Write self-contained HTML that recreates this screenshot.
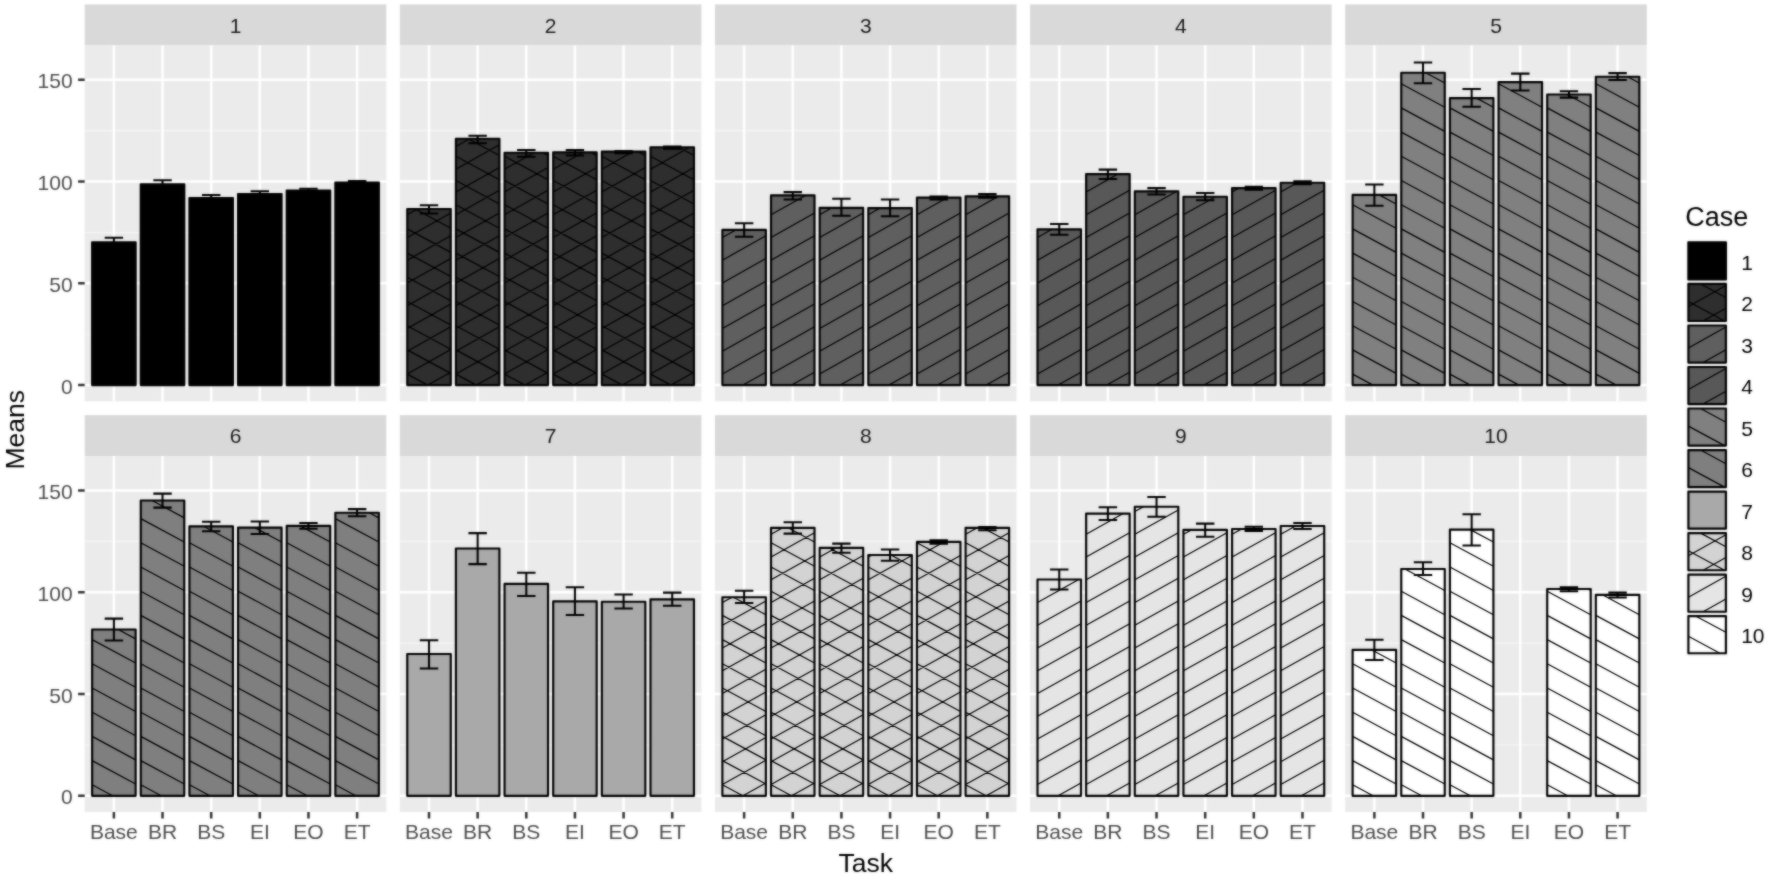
<!DOCTYPE html>
<html lang="en"><head><meta charset="utf-8"><title>Means by Task and Case</title>
<style>html,body{margin:0;padding:0;background:#fff}body{width:1772px;height:881px;overflow:hidden}svg{display:block}text{font-family:"Liberation Sans", Arial, Helvetica, sans-serif}</style></head><body>
<svg width="1772" height="881" viewBox="0 0 1772 881">
<defs><filter id="soft" filterUnits="userSpaceOnUse" x="0" y="0" width="1772" height="881" color-interpolation-filters="sRGB"><feGaussianBlur stdDeviation="0.85" result="b"/><feComposite in="SourceGraphic" in2="b" operator="arithmetic" k1="0" k2="0.45" k3="0.55" k4="0"/></filter></defs>
<g filter="url(#soft)">
<rect width="1772" height="881" fill="#ffffff"/>
<g>
<rect x="84.7" y="4.4" width="301.6" height="41" fill="#D9D9D9"/>
<text x="235.5" y="32.6" font-size="21" fill="#1A1A1A" text-anchor="middle">1</text>
<rect x="84.7" y="45.4" width="301.6" height="355.9" fill="#EBEBEB"/>
<path d="M84.7 334.23H386.3M84.7 232.48H386.3M84.7 130.72H386.3" stroke="#F6F6F6" stroke-width="1.2" fill="none"/>
<path d="M84.7 385.1H386.3M84.7 283.35H386.3M84.7 181.6H386.3M84.7 79.85H386.3M113.89 45.4V401.3M162.53 45.4V401.3M211.18 45.4V401.3M259.82 45.4V401.3M308.47 45.4V401.3M357.11 45.4V401.3" stroke="#ffffff" stroke-width="2.5" fill="none"/>
<path d="M92.14 242.3H135.64V385.1H92.14ZM140.78 184.2H184.28V385.1H140.78ZM189.43 198.1H232.93V385.1H189.43ZM238.07 194H281.57V385.1H238.07ZM286.72 190.5H330.22V385.1H286.72ZM335.36 182.5H378.86V385.1H335.36Z" fill="#000000" stroke="none"/>
<path d="M92.14 242.3H135.64V385.1H92.14ZM140.78 184.2H184.28V385.1H140.78ZM189.43 198.1H232.93V385.1H189.43ZM238.07 194H281.57V385.1H238.07ZM286.72 190.5H330.22V385.1H286.72ZM335.36 182.5H378.86V385.1H335.36Z" fill="none" stroke="#000000" stroke-width="2.15" stroke-linejoin="round"/>
<path d="M104.69 237.7H123.09M113.89 237.7V249.05M104.69 249.05H123.09M153.33 180.3H171.73M162.53 180.3V190.25M153.33 190.25H171.73M201.98 194.9H220.38M211.18 194.9V203.45M201.98 203.45H220.38M250.62 191.2H269.02M259.82 191.2V198.95M250.62 198.95H269.02M299.27 188.7H317.67M308.47 188.7V194.45M299.27 194.45H317.67M347.91 181.1H366.31M357.11 181.1V186.05M347.91 186.05H366.31" fill="none" stroke="#000000" stroke-width="2.05"/>
<path d="M78.1 385.1H84.7M78.1 283.35H84.7M78.1 181.6H84.7M78.1 79.85H84.7" stroke="#333333" stroke-width="2.5" fill="none"/>
<text x="72.6" y="393.6" font-size="21" fill="#4D4D4D" text-anchor="end">0</text>
<text x="72.6" y="291.85" font-size="21" fill="#4D4D4D" text-anchor="end">50</text>
<text x="72.6" y="190.1" font-size="21" fill="#4D4D4D" text-anchor="end">100</text>
<text x="72.6" y="88.35" font-size="21" fill="#4D4D4D" text-anchor="end">150</text>
</g>
<g>
<rect x="399.82" y="4.4" width="301.6" height="41" fill="#D9D9D9"/>
<text x="550.62" y="32.6" font-size="21" fill="#1A1A1A" text-anchor="middle">2</text>
<rect x="399.82" y="45.4" width="301.6" height="355.9" fill="#EBEBEB"/>
<path d="M399.82 334.23H701.42M399.82 232.48H701.42M399.82 130.72H701.42" stroke="#F6F6F6" stroke-width="1.2" fill="none"/>
<path d="M399.82 385.1H701.42M399.82 283.35H701.42M399.82 181.6H701.42M399.82 79.85H701.42M429.01 45.4V401.3M477.65 45.4V401.3M526.3 45.4V401.3M574.94 45.4V401.3M623.59 45.4V401.3M672.23 45.4V401.3" stroke="#ffffff" stroke-width="2.5" fill="none"/>
<path d="M407.26 209H450.76V385.1H407.26ZM455.9 138.7H499.4V385.1H455.9ZM504.55 152.7H548.05V385.1H504.55ZM553.19 152.3H596.69V385.1H553.19ZM601.84 151.6H645.34V385.1H601.84ZM650.48 147.2H693.98V385.1H650.48Z" fill="#2E2E2E" stroke="none"/>
<path d="M427.88 385.1L450.76 372.29M407.26 373.9L450.76 349.54M407.26 351.15L450.76 326.79M407.26 328.4L450.76 304.04M407.26 305.65L450.76 281.29M407.26 282.9L450.76 258.54M407.26 260.15L450.76 235.79M407.26 237.4L450.76 213.04M407.26 214.65L417.35 209M407.26 374.1L427.63 385.1M407.26 349.9L450.76 373.39M407.26 325.7L450.76 349.19M407.26 301.5L450.76 324.99M407.26 277.3L450.76 300.79M407.26 253.1L450.76 276.59M407.26 228.9L450.76 252.39M415.22 209L450.76 228.19M476.53 385.1L499.4 372.29M455.9 373.9L499.4 349.54M455.9 351.15L499.4 326.79M455.9 328.4L499.4 304.04M455.9 305.65L499.4 281.29M455.9 282.9L499.4 258.54M455.9 260.15L499.4 235.79M455.9 237.4L499.4 213.04M455.9 214.65L499.4 190.29M455.9 191.9L499.4 167.54M455.9 169.15L499.4 144.79M455.9 146.4L469.65 138.7M455.9 374.1L476.27 385.1M455.9 349.9L499.4 373.39M455.9 325.7L499.4 349.19M455.9 301.5L499.4 324.99M455.9 277.3L499.4 300.79M455.9 253.1L499.4 276.59M455.9 228.9L499.4 252.39M455.9 204.7L499.4 228.19M455.9 180.5L499.4 203.99M455.9 156.3L499.4 179.79M468.12 138.7L499.4 155.59M525.17 385.1L548.05 372.29M504.55 373.9L548.05 349.54M504.55 351.15L548.05 326.79M504.55 328.4L548.05 304.04M504.55 305.65L548.05 281.29M504.55 282.9L548.05 258.54M504.55 260.15L548.05 235.79M504.55 237.4L548.05 213.04M504.55 214.65L548.05 190.29M504.55 191.9L548.05 167.54M504.55 169.15L533.92 152.7M504.55 374.1L524.92 385.1M504.55 349.9L548.05 373.39M504.55 325.7L548.05 349.19M504.55 301.5L548.05 324.99M504.55 277.3L548.05 300.79M504.55 253.1L548.05 276.59M504.55 228.9L548.05 252.39M504.55 204.7L548.05 228.19M504.55 180.5L548.05 203.99M504.55 156.3L548.05 179.79M542.7 152.7L548.05 155.59M573.82 385.1L596.69 372.29M553.19 373.9L596.69 349.54M553.19 351.15L596.69 326.79M553.19 328.4L596.69 304.04M553.19 305.65L596.69 281.29M553.19 282.9L596.69 258.54M553.19 260.15L596.69 235.79M553.19 237.4L596.69 213.04M553.19 214.65L596.69 190.29M553.19 191.9L596.69 167.54M553.19 169.15L583.28 152.3M553.19 374.1L573.56 385.1M553.19 349.9L596.69 373.39M553.19 325.7L596.69 349.19M553.19 301.5L596.69 324.99M553.19 277.3L596.69 300.79M553.19 253.1L596.69 276.59M553.19 228.9L596.69 252.39M553.19 204.7L596.69 228.19M553.19 180.5L596.69 203.99M553.19 156.3L596.69 179.79M590.6 152.3L596.69 155.59M622.46 385.1L645.34 372.29M601.84 373.9L645.34 349.54M601.84 351.15L645.34 326.79M601.84 328.4L645.34 304.04M601.84 305.65L645.34 281.29M601.84 282.9L645.34 258.54M601.84 260.15L645.34 235.79M601.84 237.4L645.34 213.04M601.84 214.65L645.34 190.29M601.84 191.9L645.34 167.54M601.84 169.15L633.18 151.6M601.84 374.1L622.21 385.1M601.84 349.9L645.34 373.39M601.84 325.7L645.34 349.19M601.84 301.5L645.34 324.99M601.84 277.3L645.34 300.79M601.84 253.1L645.34 276.59M601.84 228.9L645.34 252.39M601.84 204.7L645.34 228.19M601.84 180.5L645.34 203.99M601.84 156.3L645.34 179.79M637.95 151.6L645.34 155.59M671.11 385.1L693.98 372.29M650.48 373.9L693.98 349.54M650.48 351.15L693.98 326.79M650.48 328.4L693.98 304.04M650.48 305.65L693.98 281.29M650.48 282.9L693.98 258.54M650.48 260.15L693.98 235.79M650.48 237.4L693.98 213.04M650.48 214.65L693.98 190.29M650.48 191.9L693.98 167.54M650.48 169.15L689.68 147.2M650.48 374.1L670.85 385.1M650.48 349.9L693.98 373.39M650.48 325.7L693.98 349.19M650.48 301.5L693.98 324.99M650.48 277.3L693.98 300.79M650.48 253.1L693.98 276.59M650.48 228.9L693.98 252.39M650.48 204.7L693.98 228.19M650.48 180.5L693.98 203.99M650.48 156.3L693.98 179.79M678.45 147.2L693.98 155.59" fill="none" stroke="#000000" stroke-width="1.2"/>
<path d="M407.26 209H450.76V385.1H407.26ZM455.9 138.7H499.4V385.1H455.9ZM504.55 152.7H548.05V385.1H504.55ZM553.19 152.3H596.69V385.1H553.19ZM601.84 151.6H645.34V385.1H601.84ZM650.48 147.2H693.98V385.1H650.48Z" fill="none" stroke="#000000" stroke-width="2.15" stroke-linejoin="round"/>
<path d="M419.81 205.3H438.21M429.01 205.3V213.5M419.81 213.5H438.21M468.45 135.8H486.85M477.65 135.8V143.2M468.45 143.2H486.85M517.1 150H535.5M526.3 150V156.7M517.1 156.7H535.5M565.74 150H584.14M574.94 150V155.4M565.74 155.4H584.14M614.39 151H632.79M623.59 151V153.2M614.39 153.2H632.79M663.03 146.5H681.43M672.23 146.5V148.7M663.03 148.7H681.43" fill="none" stroke="#000000" stroke-width="2.05"/>
</g>
<g>
<rect x="714.94" y="4.4" width="301.6" height="41" fill="#D9D9D9"/>
<text x="865.74" y="32.6" font-size="21" fill="#1A1A1A" text-anchor="middle">3</text>
<rect x="714.94" y="45.4" width="301.6" height="355.9" fill="#EBEBEB"/>
<path d="M714.94 334.23H1016.54M714.94 232.48H1016.54M714.94 130.72H1016.54" stroke="#F6F6F6" stroke-width="1.2" fill="none"/>
<path d="M714.94 385.1H1016.54M714.94 283.35H1016.54M714.94 181.6H1016.54M714.94 79.85H1016.54M744.13 45.4V401.3M792.77 45.4V401.3M841.42 45.4V401.3M890.06 45.4V401.3M938.71 45.4V401.3M987.35 45.4V401.3" stroke="#ffffff" stroke-width="2.5" fill="none"/>
<path d="M722.38 229.9H765.88V385.1H722.38ZM771.02 195.4H814.52V385.1H771.02ZM819.67 207.8H863.17V385.1H819.67ZM868.31 208.1H911.81V385.1H868.31ZM916.96 197.6H960.46V385.1H916.96ZM965.6 196.3H1009.1V385.1H965.6Z" fill="#5F5F5F" stroke="none"/>
<path d="M743 385.1L765.88 372.29M722.38 373.9L765.88 349.54M722.38 351.15L765.88 326.79M722.38 328.4L765.88 304.04M722.38 305.65L765.88 281.29M722.38 282.9L765.88 258.54M722.38 260.15L765.88 235.79M722.38 237.4L735.77 229.9M791.65 385.1L814.52 372.29M771.02 373.9L814.52 349.54M771.02 351.15L814.52 326.79M771.02 328.4L814.52 304.04M771.02 305.65L814.52 281.29M771.02 282.9L814.52 258.54M771.02 260.15L814.52 235.79M771.02 237.4L814.52 213.04M771.02 214.65L805.4 195.4M840.29 385.1L863.17 372.29M819.67 373.9L863.17 349.54M819.67 351.15L863.17 326.79M819.67 328.4L863.17 304.04M819.67 305.65L863.17 281.29M819.67 282.9L863.17 258.54M819.67 260.15L863.17 235.79M819.67 237.4L863.17 213.04M819.67 214.65L831.9 207.8M888.94 385.1L911.81 372.29M868.31 373.9L911.81 349.54M868.31 351.15L911.81 326.79M868.31 328.4L911.81 304.04M868.31 305.65L911.81 281.29M868.31 282.9L911.81 258.54M868.31 260.15L911.81 235.79M868.31 237.4L911.81 213.04M868.31 214.65L880.01 208.1M937.58 385.1L960.46 372.29M916.96 373.9L960.46 349.54M916.96 351.15L960.46 326.79M916.96 328.4L960.46 304.04M916.96 305.65L960.46 281.29M916.96 282.9L960.46 258.54M916.96 260.15L960.46 235.79M916.96 237.4L960.46 213.04M916.96 214.65L947.4 197.6M986.23 385.1L1009.1 372.29M965.6 373.9L1009.1 349.54M965.6 351.15L1009.1 326.79M965.6 328.4L1009.1 304.04M965.6 305.65L1009.1 281.29M965.6 282.9L1009.1 258.54M965.6 260.15L1009.1 235.79M965.6 237.4L1009.1 213.04M965.6 214.65L998.37 196.3" fill="none" stroke="#000000" stroke-width="1.2"/>
<path d="M722.38 229.9H765.88V385.1H722.38ZM771.02 195.4H814.52V385.1H771.02ZM819.67 207.8H863.17V385.1H819.67ZM868.31 208.1H911.81V385.1H868.31ZM916.96 197.6H960.46V385.1H916.96ZM965.6 196.3H1009.1V385.1H965.6Z" fill="none" stroke="#000000" stroke-width="2.15" stroke-linejoin="round"/>
<path d="M734.93 223.2H753.33M744.13 223.2V236.8M734.93 236.8H753.33M783.57 192.1H801.97M792.77 192.1V199.4M783.57 199.4H801.97M832.22 198.7H850.62M841.42 198.7V215.7M832.22 215.7H850.62M880.86 199.4H899.26M890.06 199.4V216.3M880.86 216.3H899.26M929.51 196.5H947.91M938.71 196.5V199.4M929.51 199.4H947.91M978.15 194.1H996.55M987.35 194.1V197.6M978.15 197.6H996.55" fill="none" stroke="#000000" stroke-width="2.05"/>
</g>
<g>
<rect x="1030.06" y="4.4" width="301.6" height="41" fill="#D9D9D9"/>
<text x="1180.86" y="32.6" font-size="21" fill="#1A1A1A" text-anchor="middle">4</text>
<rect x="1030.06" y="45.4" width="301.6" height="355.9" fill="#EBEBEB"/>
<path d="M1030.06 334.23H1331.66M1030.06 232.48H1331.66M1030.06 130.72H1331.66" stroke="#F6F6F6" stroke-width="1.2" fill="none"/>
<path d="M1030.06 385.1H1331.66M1030.06 283.35H1331.66M1030.06 181.6H1331.66M1030.06 79.85H1331.66M1059.25 45.4V401.3M1107.89 45.4V401.3M1156.54 45.4V401.3M1205.18 45.4V401.3M1253.83 45.4V401.3M1302.47 45.4V401.3" stroke="#ffffff" stroke-width="2.5" fill="none"/>
<path d="M1037.5 229.3H1081V385.1H1037.5ZM1086.14 174.1H1129.64V385.1H1086.14ZM1134.79 191.4H1178.29V385.1H1134.79ZM1183.43 196.7H1226.93V385.1H1183.43ZM1232.08 188.1H1275.58V385.1H1232.08ZM1280.72 182.7H1324.22V385.1H1280.72Z" fill="#585858" stroke="none"/>
<path d="M1058.12 385.1L1081 372.29M1037.5 373.9L1081 349.54M1037.5 351.15L1081 326.79M1037.5 328.4L1081 304.04M1037.5 305.65L1081 281.29M1037.5 282.9L1081 258.54M1037.5 260.15L1081 235.79M1037.5 237.4L1051.96 229.3M1106.77 385.1L1129.64 372.29M1086.14 373.9L1129.64 349.54M1086.14 351.15L1129.64 326.79M1086.14 328.4L1129.64 304.04M1086.14 305.65L1129.64 281.29M1086.14 282.9L1129.64 258.54M1086.14 260.15L1129.64 235.79M1086.14 237.4L1129.64 213.04M1086.14 214.65L1129.64 190.29M1086.14 191.9L1117.93 174.1M1155.41 385.1L1178.29 372.29M1134.79 373.9L1178.29 349.54M1134.79 351.15L1178.29 326.79M1134.79 328.4L1178.29 304.04M1134.79 305.65L1178.29 281.29M1134.79 282.9L1178.29 258.54M1134.79 260.15L1178.29 235.79M1134.79 237.4L1178.29 213.04M1134.79 214.65L1176.31 191.4M1134.79 191.9L1135.68 191.4M1204.06 385.1L1226.93 372.29M1183.43 373.9L1226.93 349.54M1183.43 351.15L1226.93 326.79M1183.43 328.4L1226.93 304.04M1183.43 305.65L1226.93 281.29M1183.43 282.9L1226.93 258.54M1183.43 260.15L1226.93 235.79M1183.43 237.4L1226.93 213.04M1183.43 214.65L1215.49 196.7M1252.7 385.1L1275.58 372.29M1232.08 373.9L1275.58 349.54M1232.08 351.15L1275.58 326.79M1232.08 328.4L1275.58 304.04M1232.08 305.65L1275.58 281.29M1232.08 282.9L1275.58 258.54M1232.08 260.15L1275.58 235.79M1232.08 237.4L1275.58 213.04M1232.08 214.65L1275.58 190.29M1232.08 191.9L1238.86 188.1M1301.35 385.1L1324.22 372.29M1280.72 373.9L1324.22 349.54M1280.72 351.15L1324.22 326.79M1280.72 328.4L1324.22 304.04M1280.72 305.65L1324.22 281.29M1280.72 282.9L1324.22 258.54M1280.72 260.15L1324.22 235.79M1280.72 237.4L1324.22 213.04M1280.72 214.65L1324.22 190.29M1280.72 191.9L1297.15 182.7" fill="none" stroke="#000000" stroke-width="1.2"/>
<path d="M1037.5 229.3H1081V385.1H1037.5ZM1086.14 174.1H1129.64V385.1H1086.14ZM1134.79 191.4H1178.29V385.1H1134.79ZM1183.43 196.7H1226.93V385.1H1183.43ZM1232.08 188.1H1275.58V385.1H1232.08ZM1280.72 182.7H1324.22V385.1H1280.72Z" fill="none" stroke="#000000" stroke-width="2.15" stroke-linejoin="round"/>
<path d="M1050.05 223.9H1068.45M1059.25 223.9V234.8M1050.05 234.8H1068.45M1098.69 169.6H1117.09M1107.89 169.6V179M1098.69 179H1117.09M1147.34 188.1H1165.74M1156.54 188.1V194.5M1147.34 194.5H1165.74M1195.98 193H1214.38M1205.18 193V200.3M1195.98 200.3H1214.38M1244.63 186.8H1263.03M1253.83 186.8V189.6M1244.63 189.6H1263.03M1293.27 181.2H1311.67M1302.47 181.2V184.1M1293.27 184.1H1311.67" fill="none" stroke="#000000" stroke-width="2.05"/>
</g>
<g>
<rect x="1345.18" y="4.4" width="301.6" height="41" fill="#D9D9D9"/>
<text x="1495.98" y="32.6" font-size="21" fill="#1A1A1A" text-anchor="middle">5</text>
<rect x="1345.18" y="45.4" width="301.6" height="355.9" fill="#EBEBEB"/>
<path d="M1345.18 334.23H1646.78M1345.18 232.48H1646.78M1345.18 130.72H1646.78" stroke="#F6F6F6" stroke-width="1.2" fill="none"/>
<path d="M1345.18 385.1H1646.78M1345.18 283.35H1646.78M1345.18 181.6H1646.78M1345.18 79.85H1646.78M1374.37 45.4V401.3M1423.01 45.4V401.3M1471.66 45.4V401.3M1520.3 45.4V401.3M1568.95 45.4V401.3M1617.59 45.4V401.3" stroke="#ffffff" stroke-width="2.5" fill="none"/>
<path d="M1352.62 194.9H1396.12V385.1H1352.62ZM1401.26 72.7H1444.76V385.1H1401.26ZM1449.91 98.1H1493.41V385.1H1449.91ZM1498.55 82.1H1542.05V385.1H1498.55ZM1547.2 94.5H1590.7V385.1H1547.2ZM1595.84 76.7H1639.34V385.1H1595.84Z" fill="#808080" stroke="none"/>
<path d="M1352.62 374.1L1372.99 385.1M1352.62 349.9L1396.12 373.39M1352.62 325.7L1396.12 349.19M1352.62 301.5L1396.12 324.99M1352.62 277.3L1396.12 300.79M1352.62 253.1L1396.12 276.59M1352.62 228.9L1396.12 252.39M1352.62 204.7L1396.12 228.19M1379.28 194.9L1396.12 203.99M1401.26 374.1L1421.63 385.1M1401.26 349.9L1444.76 373.39M1401.26 325.7L1444.76 349.19M1401.26 301.5L1444.76 324.99M1401.26 277.3L1444.76 300.79M1401.26 253.1L1444.76 276.59M1401.26 228.9L1444.76 252.39M1401.26 204.7L1444.76 228.19M1401.26 180.5L1444.76 203.99M1401.26 156.3L1444.76 179.79M1401.26 132.1L1444.76 155.59M1401.26 107.9L1444.76 131.39M1401.26 83.7L1444.76 107.19M1425.71 72.7L1444.76 82.99M1449.91 374.1L1470.28 385.1M1449.91 349.9L1493.41 373.39M1449.91 325.7L1493.41 349.19M1449.91 301.5L1493.41 324.99M1449.91 277.3L1493.41 300.79M1449.91 253.1L1493.41 276.59M1449.91 228.9L1493.41 252.39M1449.91 204.7L1493.41 228.19M1449.91 180.5L1493.41 203.99M1449.91 156.3L1493.41 179.79M1449.91 132.1L1493.41 155.59M1449.91 107.9L1493.41 131.39M1476.57 98.1L1493.41 107.19M1498.55 374.1L1518.92 385.1M1498.55 349.9L1542.05 373.39M1498.55 325.7L1542.05 349.19M1498.55 301.5L1542.05 324.99M1498.55 277.3L1542.05 300.79M1498.55 253.1L1542.05 276.59M1498.55 228.9L1542.05 252.39M1498.55 204.7L1542.05 228.19M1498.55 180.5L1542.05 203.99M1498.55 156.3L1542.05 179.79M1498.55 132.1L1542.05 155.59M1498.55 107.9L1542.05 131.39M1498.55 83.7L1542.05 107.19M1540.4 82.1L1542.05 82.99M1547.2 374.1L1567.57 385.1M1547.2 349.9L1590.7 373.39M1547.2 325.7L1590.7 349.19M1547.2 301.5L1590.7 324.99M1547.2 277.3L1590.7 300.79M1547.2 253.1L1590.7 276.59M1547.2 228.9L1590.7 252.39M1547.2 204.7L1590.7 228.19M1547.2 180.5L1590.7 203.99M1547.2 156.3L1590.7 179.79M1547.2 132.1L1590.7 155.59M1547.2 107.9L1590.7 131.39M1567.2 94.5L1590.7 107.19M1595.84 374.1L1616.21 385.1M1595.84 349.9L1639.34 373.39M1595.84 325.7L1639.34 349.19M1595.84 301.5L1639.34 324.99M1595.84 277.3L1639.34 300.79M1595.84 253.1L1639.34 276.59M1595.84 228.9L1639.34 252.39M1595.84 204.7L1639.34 228.19M1595.84 180.5L1639.34 203.99M1595.84 156.3L1639.34 179.79M1595.84 132.1L1639.34 155.59M1595.84 107.9L1639.34 131.39M1595.84 83.7L1639.34 107.19M1627.69 76.7L1639.34 82.99" fill="none" stroke="#000000" stroke-width="1.2"/>
<path d="M1352.62 194.9H1396.12V385.1H1352.62ZM1401.26 72.7H1444.76V385.1H1401.26ZM1449.91 98.1H1493.41V385.1H1449.91ZM1498.55 82.1H1542.05V385.1H1498.55ZM1547.2 94.5H1590.7V385.1H1547.2ZM1595.84 76.7H1639.34V385.1H1595.84Z" fill="none" stroke="#000000" stroke-width="2.15" stroke-linejoin="round"/>
<path d="M1365.17 184.4H1383.57M1374.37 184.4V205.8M1365.17 205.8H1383.57M1413.81 62.4H1432.21M1423.01 62.4V83.2M1413.81 83.2H1432.21M1462.46 89H1480.86M1471.66 89V106.7M1462.46 106.7H1480.86M1511.1 73.6H1529.5M1520.3 73.6V90.5M1511.1 90.5H1529.5M1559.75 91.2H1578.15M1568.95 91.2V97.6M1559.75 97.6H1578.15M1608.39 73.1H1626.79M1617.59 73.1V80M1608.39 80H1626.79" fill="none" stroke="#000000" stroke-width="2.05"/>
</g>
<g>
<rect x="84.7" y="415.2" width="301.6" height="40.9" fill="#D9D9D9"/>
<text x="235.5" y="443.4" font-size="21" fill="#1A1A1A" text-anchor="middle">6</text>
<rect x="84.7" y="456.1" width="301.6" height="355.9" fill="#EBEBEB"/>
<path d="M84.7 744.92H386.3M84.7 643.17H386.3M84.7 541.42H386.3" stroke="#F6F6F6" stroke-width="1.2" fill="none"/>
<path d="M84.7 795.8H386.3M84.7 694.05H386.3M84.7 592.3H386.3M84.7 490.55H386.3M113.89 456.1V812M162.53 456.1V812M211.18 456.1V812M259.82 456.1V812M308.47 456.1V812M357.11 456.1V812" stroke="#ffffff" stroke-width="2.5" fill="none"/>
<path d="M92.14 629.5H135.64V795.8H92.14ZM140.78 500.5H184.28V795.8H140.78ZM189.43 526.3H232.93V795.8H189.43ZM238.07 527.6H281.57V795.8H238.07ZM286.72 525.9H330.22V795.8H286.72ZM335.36 512.7H378.86V795.8H335.36Z" fill="#7F7F7F" stroke="none"/>
<path d="M92.14 784.8L112.51 795.8M92.14 760.6L135.64 784.09M92.14 736.4L135.64 759.89M92.14 712.2L135.64 735.69M92.14 688L135.64 711.49M92.14 663.8L135.64 687.29M92.14 639.6L135.64 663.09M118.25 629.5L135.64 638.89M140.78 784.8L161.15 795.8M140.78 760.6L184.28 784.09M140.78 736.4L184.28 759.89M140.78 712.2L184.28 735.69M140.78 688L184.28 711.49M140.78 663.8L184.28 687.29M140.78 639.6L184.28 663.09M140.78 615.4L184.28 638.89M140.78 591.2L184.28 614.69M140.78 567L184.28 590.49M140.78 542.8L184.28 566.29M140.78 518.6L184.28 542.09M152.08 500.5L184.28 517.89M189.43 784.8L209.8 795.8M189.43 760.6L232.93 784.09M189.43 736.4L232.93 759.89M189.43 712.2L232.93 735.69M189.43 688L232.93 711.49M189.43 663.8L232.93 687.29M189.43 639.6L232.93 663.09M189.43 615.4L232.93 638.89M189.43 591.2L232.93 614.69M189.43 567L232.93 590.49M189.43 542.8L232.93 566.29M203.69 526.3L232.93 542.09M238.07 784.8L258.44 795.8M238.07 760.6L281.57 784.09M238.07 736.4L281.57 759.89M238.07 712.2L281.57 735.69M238.07 688L281.57 711.49M238.07 663.8L281.57 687.29M238.07 639.6L281.57 663.09M238.07 615.4L281.57 638.89M238.07 591.2L281.57 614.69M238.07 567L281.57 590.49M238.07 542.8L281.57 566.29M254.74 527.6L281.57 542.09M286.72 784.8L307.09 795.8M286.72 760.6L330.22 784.09M286.72 736.4L330.22 759.89M286.72 712.2L330.22 735.69M286.72 688L330.22 711.49M286.72 663.8L330.22 687.29M286.72 639.6L330.22 663.09M286.72 615.4L330.22 638.89M286.72 591.2L330.22 614.69M286.72 567L330.22 590.49M286.72 542.8L330.22 566.29M300.24 525.9L330.22 542.09M335.36 784.8L355.73 795.8M335.36 760.6L378.86 784.09M335.36 736.4L378.86 759.89M335.36 712.2L378.86 735.69M335.36 688L378.86 711.49M335.36 663.8L378.86 687.29M335.36 639.6L378.86 663.09M335.36 615.4L378.86 638.89M335.36 591.2L378.86 614.69M335.36 567L378.86 590.49M335.36 542.8L378.86 566.29M335.36 518.6L378.86 542.09M369.25 512.7L378.86 517.89" fill="none" stroke="#000000" stroke-width="1.2"/>
<path d="M92.14 629.5H135.64V795.8H92.14ZM140.78 500.5H184.28V795.8H140.78ZM189.43 526.3H232.93V795.8H189.43ZM238.07 527.6H281.57V795.8H238.07ZM286.72 525.9H330.22V795.8H286.72ZM335.36 512.7H378.86V795.8H335.36Z" fill="none" stroke="#000000" stroke-width="2.15" stroke-linejoin="round"/>
<path d="M104.69 618.6H123.09M113.89 618.6V640.4M104.69 640.4H123.09M153.33 493.6H171.73M162.53 493.6V507.6M153.33 507.6H171.73M201.98 521.8H220.38M211.18 521.8V531.2M201.98 531.2H220.38M250.62 521.4H269.02M259.82 521.4V533.9M250.62 533.9H269.02M299.27 523H317.67M308.47 523V528.7M299.27 528.7H317.67M347.91 509.1H366.31M357.11 509.1V516.3M347.91 516.3H366.31" fill="none" stroke="#000000" stroke-width="2.05"/>
<path d="M113.89 812V818.6M162.53 812V818.6M211.18 812V818.6M259.82 812V818.6M308.47 812V818.6M357.11 812V818.6" stroke="#333333" stroke-width="2.5" fill="none"/>
<text x="113.89" y="839.3" font-size="21" fill="#4D4D4D" text-anchor="middle">Base</text>
<text x="162.53" y="839.3" font-size="21" fill="#4D4D4D" text-anchor="middle">BR</text>
<text x="211.18" y="839.3" font-size="21" fill="#4D4D4D" text-anchor="middle">BS</text>
<text x="259.82" y="839.3" font-size="21" fill="#4D4D4D" text-anchor="middle">EI</text>
<text x="308.47" y="839.3" font-size="21" fill="#4D4D4D" text-anchor="middle">EO</text>
<text x="357.11" y="839.3" font-size="21" fill="#4D4D4D" text-anchor="middle">ET</text>
<path d="M78.1 795.8H84.7M78.1 694.05H84.7M78.1 592.3H84.7M78.1 490.55H84.7" stroke="#333333" stroke-width="2.5" fill="none"/>
<text x="72.6" y="804.3" font-size="21" fill="#4D4D4D" text-anchor="end">0</text>
<text x="72.6" y="702.55" font-size="21" fill="#4D4D4D" text-anchor="end">50</text>
<text x="72.6" y="600.8" font-size="21" fill="#4D4D4D" text-anchor="end">100</text>
<text x="72.6" y="499.05" font-size="21" fill="#4D4D4D" text-anchor="end">150</text>
</g>
<g>
<rect x="399.82" y="415.2" width="301.6" height="40.9" fill="#D9D9D9"/>
<text x="550.62" y="443.4" font-size="21" fill="#1A1A1A" text-anchor="middle">7</text>
<rect x="399.82" y="456.1" width="301.6" height="355.9" fill="#EBEBEB"/>
<path d="M399.82 744.92H701.42M399.82 643.17H701.42M399.82 541.42H701.42" stroke="#F6F6F6" stroke-width="1.2" fill="none"/>
<path d="M399.82 795.8H701.42M399.82 694.05H701.42M399.82 592.3H701.42M399.82 490.55H701.42M429.01 456.1V812M477.65 456.1V812M526.3 456.1V812M574.94 456.1V812M623.59 456.1V812M672.23 456.1V812" stroke="#ffffff" stroke-width="2.5" fill="none"/>
<path d="M407.26 654H450.76V795.8H407.26ZM455.9 548.5H499.4V795.8H455.9ZM504.55 583.9H548.05V795.8H504.55ZM553.19 601.4H596.69V795.8H553.19ZM601.84 601.7H645.34V795.8H601.84ZM650.48 599.4H693.98V795.8H650.48Z" fill="#A9A9A9" stroke="none"/>
<path d="M407.26 654H450.76V795.8H407.26ZM455.9 548.5H499.4V795.8H455.9ZM504.55 583.9H548.05V795.8H504.55ZM553.19 601.4H596.69V795.8H553.19ZM601.84 601.7H645.34V795.8H601.84ZM650.48 599.4H693.98V795.8H650.48Z" fill="none" stroke="#000000" stroke-width="2.15" stroke-linejoin="round"/>
<path d="M419.81 640.2H438.21M429.01 640.2V668.4M419.81 668.4H438.21M468.45 533.1H486.85M477.65 533.1V564.1M468.45 564.1H486.85M517.1 572.7H535.5M526.3 572.7V595.9M517.1 595.9H535.5M565.74 587.2H584.14M574.94 587.2V615M565.74 615H584.14M614.39 594.5H632.79M623.59 594.5V608.4M614.39 608.4H632.79M663.03 592.6H681.43M672.23 592.6V605.7M663.03 605.7H681.43" fill="none" stroke="#000000" stroke-width="2.05"/>
<path d="M429.01 812V818.6M477.65 812V818.6M526.3 812V818.6M574.94 812V818.6M623.59 812V818.6M672.23 812V818.6" stroke="#333333" stroke-width="2.5" fill="none"/>
<text x="429.01" y="839.3" font-size="21" fill="#4D4D4D" text-anchor="middle">Base</text>
<text x="477.65" y="839.3" font-size="21" fill="#4D4D4D" text-anchor="middle">BR</text>
<text x="526.3" y="839.3" font-size="21" fill="#4D4D4D" text-anchor="middle">BS</text>
<text x="574.94" y="839.3" font-size="21" fill="#4D4D4D" text-anchor="middle">EI</text>
<text x="623.59" y="839.3" font-size="21" fill="#4D4D4D" text-anchor="middle">EO</text>
<text x="672.23" y="839.3" font-size="21" fill="#4D4D4D" text-anchor="middle">ET</text>
</g>
<g>
<rect x="714.94" y="415.2" width="301.6" height="40.9" fill="#D9D9D9"/>
<text x="865.74" y="443.4" font-size="21" fill="#1A1A1A" text-anchor="middle">8</text>
<rect x="714.94" y="456.1" width="301.6" height="355.9" fill="#EBEBEB"/>
<path d="M714.94 744.92H1016.54M714.94 643.17H1016.54M714.94 541.42H1016.54" stroke="#F6F6F6" stroke-width="1.2" fill="none"/>
<path d="M714.94 795.8H1016.54M714.94 694.05H1016.54M714.94 592.3H1016.54M714.94 490.55H1016.54M744.13 456.1V812M792.77 456.1V812M841.42 456.1V812M890.06 456.1V812M938.71 456.1V812M987.35 456.1V812" stroke="#ffffff" stroke-width="2.5" fill="none"/>
<path d="M722.38 597.2H765.88V795.8H722.38ZM771.02 527.8H814.52V795.8H771.02ZM819.67 547.8H863.17V795.8H819.67ZM868.31 555H911.81V795.8H868.31ZM916.96 541.8H960.46V795.8H916.96ZM965.6 527.8H1009.1V795.8H965.6Z" fill="#D3D3D3" stroke="none"/>
<path d="M743 795.8L765.88 782.99M722.38 784.6L765.88 760.24M722.38 761.85L765.88 737.49M722.38 739.1L765.88 714.74M722.38 716.35L765.88 691.99M722.38 693.6L765.88 669.24M722.38 670.85L765.88 646.49M722.38 648.1L765.88 623.74M722.38 625.35L765.88 600.99M722.38 602.6L732.02 597.2M722.38 784.8L742.75 795.8M722.38 760.6L765.88 784.09M722.38 736.4L765.88 759.89M722.38 712.2L765.88 735.69M722.38 688L765.88 711.49M722.38 663.8L765.88 687.29M722.38 639.6L765.88 663.09M722.38 615.4L765.88 638.89M733.49 597.2L765.88 614.69M791.65 795.8L814.52 782.99M771.02 784.6L814.52 760.24M771.02 761.85L814.52 737.49M771.02 739.1L814.52 714.74M771.02 716.35L814.52 691.99M771.02 693.6L814.52 669.24M771.02 670.85L814.52 646.49M771.02 648.1L814.52 623.74M771.02 625.35L814.52 600.99M771.02 602.6L814.52 578.24M771.02 579.85L814.52 555.49M771.02 557.1L814.52 532.74M771.02 534.35L782.72 527.8M771.02 784.8L791.39 795.8M771.02 760.6L814.52 784.09M771.02 736.4L814.52 759.89M771.02 712.2L814.52 735.69M771.02 688L814.52 711.49M771.02 663.8L814.52 687.29M771.02 639.6L814.52 663.09M771.02 615.4L814.52 638.89M771.02 591.2L814.52 614.69M771.02 567L814.52 590.49M771.02 542.8L814.52 566.29M788.06 527.8L814.52 542.09M840.29 795.8L863.17 782.99M819.67 784.6L863.17 760.24M819.67 761.85L863.17 737.49M819.67 739.1L863.17 714.74M819.67 716.35L863.17 691.99M819.67 693.6L863.17 669.24M819.67 670.85L863.17 646.49M819.67 648.1L863.17 623.74M819.67 625.35L863.17 600.99M819.67 602.6L863.17 578.24M819.67 579.85L863.17 555.49M819.67 557.1L836.27 547.8M819.67 784.8L840.04 795.8M819.67 760.6L863.17 784.09M819.67 736.4L863.17 759.89M819.67 712.2L863.17 735.69M819.67 688L863.17 711.49M819.67 663.8L863.17 687.29M819.67 639.6L863.17 663.09M819.67 615.4L863.17 638.89M819.67 591.2L863.17 614.69M819.67 567L863.17 590.49M828.93 547.8L863.17 566.29M888.94 795.8L911.81 782.99M868.31 784.6L911.81 760.24M868.31 761.85L911.81 737.49M868.31 739.1L911.81 714.74M868.31 716.35L911.81 691.99M868.31 693.6L911.81 669.24M868.31 670.85L911.81 646.49M868.31 648.1L911.81 623.74M868.31 625.35L911.81 600.99M868.31 602.6L911.81 578.24M868.31 579.85L911.81 555.49M868.31 557.1L872.06 555M868.31 784.8L888.68 795.8M868.31 760.6L911.81 784.09M868.31 736.4L911.81 759.89M868.31 712.2L911.81 735.69M868.31 688L911.81 711.49M868.31 663.8L911.81 687.29M868.31 639.6L911.81 663.09M868.31 615.4L911.81 638.89M868.31 591.2L911.81 614.69M868.31 567L911.81 590.49M890.91 555L911.81 566.29M937.58 795.8L960.46 782.99M916.96 784.6L960.46 760.24M916.96 761.85L960.46 737.49M916.96 739.1L960.46 714.74M916.96 716.35L960.46 691.99M916.96 693.6L960.46 669.24M916.96 670.85L960.46 646.49M916.96 648.1L960.46 623.74M916.96 625.35L960.46 600.99M916.96 602.6L960.46 578.24M916.96 579.85L960.46 555.49M916.96 557.1L944.28 541.8M916.96 784.8L937.33 795.8M916.96 760.6L960.46 784.09M916.96 736.4L960.46 759.89M916.96 712.2L960.46 735.69M916.96 688L960.46 711.49M916.96 663.8L960.46 687.29M916.96 639.6L960.46 663.09M916.96 615.4L960.46 638.89M916.96 591.2L960.46 614.69M916.96 567L960.46 590.49M916.96 542.8L960.46 566.29M959.92 541.8L960.46 542.09M986.23 795.8L1009.1 782.99M965.6 784.6L1009.1 760.24M965.6 761.85L1009.1 737.49M965.6 739.1L1009.1 714.74M965.6 716.35L1009.1 691.99M965.6 693.6L1009.1 669.24M965.6 670.85L1009.1 646.49M965.6 648.1L1009.1 623.74M965.6 625.35L1009.1 600.99M965.6 602.6L1009.1 578.24M965.6 579.85L1009.1 555.49M965.6 557.1L1009.1 532.74M965.6 534.35L977.3 527.8M965.6 784.8L985.97 795.8M965.6 760.6L1009.1 784.09M965.6 736.4L1009.1 759.89M965.6 712.2L1009.1 735.69M965.6 688L1009.1 711.49M965.6 663.8L1009.1 687.29M965.6 639.6L1009.1 663.09M965.6 615.4L1009.1 638.89M965.6 591.2L1009.1 614.69M965.6 567L1009.1 590.49M965.6 542.8L1009.1 566.29M982.64 527.8L1009.1 542.09" fill="none" stroke="#000000" stroke-width="1.2"/>
<path d="M722.38 597.2H765.88V795.8H722.38ZM771.02 527.8H814.52V795.8H771.02ZM819.67 547.8H863.17V795.8H819.67ZM868.31 555H911.81V795.8H868.31ZM916.96 541.8H960.46V795.8H916.96ZM965.6 527.8H1009.1V795.8H965.6Z" fill="none" stroke="#000000" stroke-width="2.15" stroke-linejoin="round"/>
<path d="M734.93 590.8H753.33M744.13 590.8V603M734.93 603H753.33M783.57 522.3H801.97M792.77 522.3V533.6M783.57 533.6H801.97M832.22 543.6H850.62M841.42 543.6V552.7M832.22 552.7H850.62M880.86 549.4H899.26M890.06 549.4V560.8M880.86 560.8H899.26M929.51 540.3H947.91M938.71 540.3V543.6M929.51 543.6H947.91M978.15 526.9H996.55M987.35 526.9V530.3M978.15 530.3H996.55" fill="none" stroke="#000000" stroke-width="2.05"/>
<path d="M744.13 812V818.6M792.77 812V818.6M841.42 812V818.6M890.06 812V818.6M938.71 812V818.6M987.35 812V818.6" stroke="#333333" stroke-width="2.5" fill="none"/>
<text x="744.13" y="839.3" font-size="21" fill="#4D4D4D" text-anchor="middle">Base</text>
<text x="792.77" y="839.3" font-size="21" fill="#4D4D4D" text-anchor="middle">BR</text>
<text x="841.42" y="839.3" font-size="21" fill="#4D4D4D" text-anchor="middle">BS</text>
<text x="890.06" y="839.3" font-size="21" fill="#4D4D4D" text-anchor="middle">EI</text>
<text x="938.71" y="839.3" font-size="21" fill="#4D4D4D" text-anchor="middle">EO</text>
<text x="987.35" y="839.3" font-size="21" fill="#4D4D4D" text-anchor="middle">ET</text>
</g>
<g>
<rect x="1030.06" y="415.2" width="301.6" height="40.9" fill="#D9D9D9"/>
<text x="1180.86" y="443.4" font-size="21" fill="#1A1A1A" text-anchor="middle">9</text>
<rect x="1030.06" y="456.1" width="301.6" height="355.9" fill="#EBEBEB"/>
<path d="M1030.06 744.92H1331.66M1030.06 643.17H1331.66M1030.06 541.42H1331.66" stroke="#F6F6F6" stroke-width="1.2" fill="none"/>
<path d="M1030.06 795.8H1331.66M1030.06 694.05H1331.66M1030.06 592.3H1331.66M1030.06 490.55H1331.66M1059.25 456.1V812M1107.89 456.1V812M1156.54 456.1V812M1205.18 456.1V812M1253.83 456.1V812M1302.47 456.1V812" stroke="#ffffff" stroke-width="2.5" fill="none"/>
<path d="M1037.5 579.5H1081V795.8H1037.5ZM1086.14 513.6H1129.64V795.8H1086.14ZM1134.79 506.7H1178.29V795.8H1134.79ZM1183.43 529.9H1226.93V795.8H1183.43ZM1232.08 529H1275.58V795.8H1232.08ZM1280.72 526H1324.22V795.8H1280.72Z" fill="#E5E5E5" stroke="none"/>
<path d="M1058.12 795.8L1081 782.99M1037.5 784.6L1081 760.24M1037.5 761.85L1081 737.49M1037.5 739.1L1081 714.74M1037.5 716.35L1081 691.99M1037.5 693.6L1081 669.24M1037.5 670.85L1081 646.49M1037.5 648.1L1081 623.74M1037.5 625.35L1081 600.99M1037.5 602.6L1078.75 579.5M1037.5 579.85L1038.12 579.5M1106.77 795.8L1129.64 782.99M1086.14 784.6L1129.64 760.24M1086.14 761.85L1129.64 737.49M1086.14 739.1L1129.64 714.74M1086.14 716.35L1129.64 691.99M1086.14 693.6L1129.64 669.24M1086.14 670.85L1129.64 646.49M1086.14 648.1L1129.64 623.74M1086.14 625.35L1129.64 600.99M1086.14 602.6L1129.64 578.24M1086.14 579.85L1129.64 555.49M1086.14 557.1L1129.64 532.74M1086.14 534.35L1123.2 513.6M1155.41 795.8L1178.29 782.99M1134.79 784.6L1178.29 760.24M1134.79 761.85L1178.29 737.49M1134.79 739.1L1178.29 714.74M1134.79 716.35L1178.29 691.99M1134.79 693.6L1178.29 669.24M1134.79 670.85L1178.29 646.49M1134.79 648.1L1178.29 623.74M1134.79 625.35L1178.29 600.99M1134.79 602.6L1178.29 578.24M1134.79 579.85L1178.29 555.49M1134.79 557.1L1178.29 532.74M1134.79 534.35L1178.29 509.99M1134.79 511.6L1143.54 506.7M1204.06 795.8L1226.93 782.99M1183.43 784.6L1226.93 760.24M1183.43 761.85L1226.93 737.49M1183.43 739.1L1226.93 714.74M1183.43 716.35L1226.93 691.99M1183.43 693.6L1226.93 669.24M1183.43 670.85L1226.93 646.49M1183.43 648.1L1226.93 623.74M1183.43 625.35L1226.93 600.99M1183.43 602.6L1226.93 578.24M1183.43 579.85L1226.93 555.49M1183.43 557.1L1226.93 532.74M1183.43 534.35L1191.38 529.9M1252.7 795.8L1275.58 782.99M1232.08 784.6L1275.58 760.24M1232.08 761.85L1275.58 737.49M1232.08 739.1L1275.58 714.74M1232.08 716.35L1275.58 691.99M1232.08 693.6L1275.58 669.24M1232.08 670.85L1275.58 646.49M1232.08 648.1L1275.58 623.74M1232.08 625.35L1275.58 600.99M1232.08 602.6L1275.58 578.24M1232.08 579.85L1275.58 555.49M1232.08 557.1L1275.58 532.74M1232.08 534.35L1241.63 529M1301.35 795.8L1324.22 782.99M1280.72 784.6L1324.22 760.24M1280.72 761.85L1324.22 737.49M1280.72 739.1L1324.22 714.74M1280.72 716.35L1324.22 691.99M1280.72 693.6L1324.22 669.24M1280.72 670.85L1324.22 646.49M1280.72 648.1L1324.22 623.74M1280.72 625.35L1324.22 600.99M1280.72 602.6L1324.22 578.24M1280.72 579.85L1324.22 555.49M1280.72 557.1L1324.22 532.74M1280.72 534.35L1295.63 526" fill="none" stroke="#000000" stroke-width="1.2"/>
<path d="M1037.5 579.5H1081V795.8H1037.5ZM1086.14 513.6H1129.64V795.8H1086.14ZM1134.79 506.7H1178.29V795.8H1134.79ZM1183.43 529.9H1226.93V795.8H1183.43ZM1232.08 529H1275.58V795.8H1232.08ZM1280.72 526H1324.22V795.8H1280.72Z" fill="none" stroke="#000000" stroke-width="2.15" stroke-linejoin="round"/>
<path d="M1050.05 569.5H1068.45M1059.25 569.5V589.5M1050.05 589.5H1068.45M1098.69 507.2H1117.09M1107.89 507.2V520M1098.69 520H1117.09M1147.34 496.9H1165.74M1156.54 496.9V516.7M1147.34 516.7H1165.74M1195.98 523.6H1214.38M1205.18 523.6V536.8M1195.98 536.8H1214.38M1244.63 526.7H1263.03M1253.83 526.7V530.9M1244.63 530.9H1263.03M1293.27 523H1311.67M1302.47 523V529M1293.27 529H1311.67" fill="none" stroke="#000000" stroke-width="2.05"/>
<path d="M1059.25 812V818.6M1107.89 812V818.6M1156.54 812V818.6M1205.18 812V818.6M1253.83 812V818.6M1302.47 812V818.6" stroke="#333333" stroke-width="2.5" fill="none"/>
<text x="1059.25" y="839.3" font-size="21" fill="#4D4D4D" text-anchor="middle">Base</text>
<text x="1107.89" y="839.3" font-size="21" fill="#4D4D4D" text-anchor="middle">BR</text>
<text x="1156.54" y="839.3" font-size="21" fill="#4D4D4D" text-anchor="middle">BS</text>
<text x="1205.18" y="839.3" font-size="21" fill="#4D4D4D" text-anchor="middle">EI</text>
<text x="1253.83" y="839.3" font-size="21" fill="#4D4D4D" text-anchor="middle">EO</text>
<text x="1302.47" y="839.3" font-size="21" fill="#4D4D4D" text-anchor="middle">ET</text>
</g>
<g>
<rect x="1345.18" y="415.2" width="301.6" height="40.9" fill="#D9D9D9"/>
<text x="1495.98" y="443.4" font-size="21" fill="#1A1A1A" text-anchor="middle">10</text>
<rect x="1345.18" y="456.1" width="301.6" height="355.9" fill="#EBEBEB"/>
<path d="M1345.18 744.92H1646.78M1345.18 643.17H1646.78M1345.18 541.42H1646.78" stroke="#F6F6F6" stroke-width="1.2" fill="none"/>
<path d="M1345.18 795.8H1646.78M1345.18 694.05H1646.78M1345.18 592.3H1646.78M1345.18 490.55H1646.78M1374.37 456.1V812M1423.01 456.1V812M1471.66 456.1V812M1520.3 456.1V812M1568.95 456.1V812M1617.59 456.1V812" stroke="#ffffff" stroke-width="2.5" fill="none"/>
<path d="M1352.62 649.8H1396.12V795.8H1352.62ZM1401.26 569H1444.76V795.8H1401.26ZM1449.91 529.6H1493.41V795.8H1449.91ZM1547.2 589H1590.7V795.8H1547.2ZM1595.84 594.8H1639.34V795.8H1595.84Z" fill="#FFFFFF" stroke="none"/>
<path d="M1352.62 784.8L1372.99 795.8M1352.62 760.6L1396.12 784.09M1352.62 736.4L1396.12 759.89M1352.62 712.2L1396.12 735.69M1352.62 688L1396.12 711.49M1352.62 663.8L1396.12 687.29M1371.51 649.8L1396.12 663.09M1401.26 784.8L1421.63 795.8M1401.26 760.6L1444.76 784.09M1401.26 736.4L1444.76 759.89M1401.26 712.2L1444.76 735.69M1401.26 688L1444.76 711.49M1401.26 663.8L1444.76 687.29M1401.26 639.6L1444.76 663.09M1401.26 615.4L1444.76 638.89M1401.26 591.2L1444.76 614.69M1404.97 569L1444.76 590.49M1449.91 784.8L1470.28 795.8M1449.91 760.6L1493.41 784.09M1449.91 736.4L1493.41 759.89M1449.91 712.2L1493.41 735.69M1449.91 688L1493.41 711.49M1449.91 663.8L1493.41 687.29M1449.91 639.6L1493.41 663.09M1449.91 615.4L1493.41 638.89M1449.91 591.2L1493.41 614.69M1449.91 567L1493.41 590.49M1449.91 542.8L1493.41 566.29M1470.28 529.6L1493.41 542.09M1547.2 784.8L1567.57 795.8M1547.2 760.6L1590.7 784.09M1547.2 736.4L1590.7 759.89M1547.2 712.2L1590.7 735.69M1547.2 688L1590.7 711.49M1547.2 663.8L1590.7 687.29M1547.2 639.6L1590.7 663.09M1547.2 615.4L1590.7 638.89M1547.2 591.2L1590.7 614.69M1587.94 589L1590.7 590.49M1595.84 784.8L1616.21 795.8M1595.84 760.6L1639.34 784.09M1595.84 736.4L1639.34 759.89M1595.84 712.2L1639.34 735.69M1595.84 688L1639.34 711.49M1595.84 663.8L1639.34 687.29M1595.84 639.6L1639.34 663.09M1595.84 615.4L1639.34 638.89M1602.51 594.8L1639.34 614.69" fill="none" stroke="#000000" stroke-width="1.2"/>
<path d="M1352.62 649.8H1396.12V795.8H1352.62ZM1401.26 569H1444.76V795.8H1401.26ZM1449.91 529.6H1493.41V795.8H1449.91ZM1547.2 589H1590.7V795.8H1547.2ZM1595.84 594.8H1639.34V795.8H1595.84Z" fill="none" stroke="#000000" stroke-width="2.15" stroke-linejoin="round"/>
<path d="M1365.17 639.8H1383.57M1374.37 639.8V659.9M1365.17 659.9H1383.57M1413.81 562.3H1432.21M1423.01 562.3V575M1413.81 575H1432.21M1462.46 514.2H1480.86M1471.66 514.2V545.4M1462.46 545.4H1480.86M1559.75 587.2H1578.15M1568.95 587.2V591.2M1559.75 591.2H1578.15M1608.39 592.6H1626.79M1617.59 592.6V597.5M1608.39 597.5H1626.79" fill="none" stroke="#000000" stroke-width="2.05"/>
<path d="M1374.37 812V818.6M1423.01 812V818.6M1471.66 812V818.6M1520.3 812V818.6M1568.95 812V818.6M1617.59 812V818.6" stroke="#333333" stroke-width="2.5" fill="none"/>
<text x="1374.37" y="839.3" font-size="21" fill="#4D4D4D" text-anchor="middle">Base</text>
<text x="1423.01" y="839.3" font-size="21" fill="#4D4D4D" text-anchor="middle">BR</text>
<text x="1471.66" y="839.3" font-size="21" fill="#4D4D4D" text-anchor="middle">BS</text>
<text x="1520.3" y="839.3" font-size="21" fill="#4D4D4D" text-anchor="middle">EI</text>
<text x="1568.95" y="839.3" font-size="21" fill="#4D4D4D" text-anchor="middle">EO</text>
<text x="1617.59" y="839.3" font-size="21" fill="#4D4D4D" text-anchor="middle">ET</text>
</g>
<text x="865.7" y="871.7" font-size="26.5" fill="#000000" text-anchor="middle">Task</text>
<text transform="translate(24.1 429.7) rotate(-90)" font-size="26.5" fill="#000000" text-anchor="middle">Means</text>
<g>
<text x="1685.2" y="225.9" font-size="27" fill="#000000">Case</text>
<rect x="1686.5" y="240.5" width="41.5" height="41.53" fill="#F2F2F2"/>
<rect x="1688.4" y="242.4" width="37.5" height="37.1" fill="#000000"/>
<rect x="1688.4" y="242.4" width="37.5" height="37.1" fill="none" stroke="#000000" stroke-width="2.15" stroke-linejoin="round"/>
<text x="1741.2" y="269.55" font-size="21" fill="#000000">1</text>
<rect x="1686.5" y="282.03" width="41.5" height="41.53" fill="#F2F2F2"/>
<rect x="1688.4" y="283.93" width="37.5" height="37.1" fill="#2E2E2E"/>
<path d="M1703.13 321.03L1725.9 308.28M1688.4 306.53L1725.9 285.53M1688.4 301.53L1724.51 321.03M1700.62 283.93L1725.9 297.58" fill="none" stroke="#000000" stroke-width="1.2"/>
<rect x="1688.4" y="283.93" width="37.5" height="37.1" fill="none" stroke="#000000" stroke-width="2.15" stroke-linejoin="round"/>
<text x="1741.2" y="311.08" font-size="21" fill="#000000">2</text>
<rect x="1686.5" y="323.56" width="41.5" height="41.53" fill="#F2F2F2"/>
<rect x="1688.4" y="325.46" width="37.5" height="37.1" fill="#5F5F5F"/>
<path d="M1703.13 362.56L1725.9 349.81M1688.4 348.06L1725.9 327.06" fill="none" stroke="#000000" stroke-width="1.2"/>
<rect x="1688.4" y="325.46" width="37.5" height="37.1" fill="none" stroke="#000000" stroke-width="2.15" stroke-linejoin="round"/>
<text x="1741.2" y="352.61" font-size="21" fill="#000000">3</text>
<rect x="1686.5" y="365.09" width="41.5" height="41.53" fill="#F2F2F2"/>
<rect x="1688.4" y="366.99" width="37.5" height="37.1" fill="#585858"/>
<path d="M1703.13 404.09L1725.9 391.34M1688.4 389.59L1725.9 368.59" fill="none" stroke="#000000" stroke-width="1.2"/>
<rect x="1688.4" y="366.99" width="37.5" height="37.1" fill="none" stroke="#000000" stroke-width="2.15" stroke-linejoin="round"/>
<text x="1741.2" y="394.14" font-size="21" fill="#000000">4</text>
<rect x="1686.5" y="406.62" width="41.5" height="41.53" fill="#F2F2F2"/>
<rect x="1688.4" y="408.52" width="37.5" height="37.1" fill="#808080"/>
<path d="M1688.4 426.12L1724.51 445.62M1700.62 408.52L1725.9 422.17" fill="none" stroke="#000000" stroke-width="1.2"/>
<rect x="1688.4" y="408.52" width="37.5" height="37.1" fill="none" stroke="#000000" stroke-width="2.15" stroke-linejoin="round"/>
<text x="1741.2" y="435.67" font-size="21" fill="#000000">5</text>
<rect x="1686.5" y="448.15" width="41.5" height="41.53" fill="#F2F2F2"/>
<rect x="1688.4" y="450.05" width="37.5" height="37.1" fill="#7F7F7F"/>
<path d="M1688.4 467.65L1724.51 487.15M1700.62 450.05L1725.9 463.7" fill="none" stroke="#000000" stroke-width="1.2"/>
<rect x="1688.4" y="450.05" width="37.5" height="37.1" fill="none" stroke="#000000" stroke-width="2.15" stroke-linejoin="round"/>
<text x="1741.2" y="477.2" font-size="21" fill="#000000">6</text>
<rect x="1686.5" y="489.68" width="41.5" height="41.53" fill="#F2F2F2"/>
<rect x="1688.4" y="491.58" width="37.5" height="37.1" fill="#A9A9A9"/>
<rect x="1688.4" y="491.58" width="37.5" height="37.1" fill="none" stroke="#000000" stroke-width="2.15" stroke-linejoin="round"/>
<text x="1741.2" y="518.73" font-size="21" fill="#000000">7</text>
<rect x="1686.5" y="531.21" width="41.5" height="41.53" fill="#F2F2F2"/>
<rect x="1688.4" y="533.11" width="37.5" height="37.1" fill="#D3D3D3"/>
<path d="M1703.13 570.21L1725.9 557.46M1688.4 555.71L1725.9 534.71M1688.4 550.71L1724.51 570.21M1700.62 533.11L1725.9 546.76" fill="none" stroke="#000000" stroke-width="1.2"/>
<rect x="1688.4" y="533.11" width="37.5" height="37.1" fill="none" stroke="#000000" stroke-width="2.15" stroke-linejoin="round"/>
<text x="1741.2" y="560.26" font-size="21" fill="#000000">8</text>
<rect x="1686.5" y="572.74" width="41.5" height="41.53" fill="#F2F2F2"/>
<rect x="1688.4" y="574.64" width="37.5" height="37.1" fill="#E5E5E5"/>
<path d="M1703.13 611.74L1725.9 598.99M1688.4 597.24L1725.9 576.24" fill="none" stroke="#000000" stroke-width="1.2"/>
<rect x="1688.4" y="574.64" width="37.5" height="37.1" fill="none" stroke="#000000" stroke-width="2.15" stroke-linejoin="round"/>
<text x="1741.2" y="601.79" font-size="21" fill="#000000">9</text>
<rect x="1686.5" y="614.27" width="41.5" height="41.53" fill="#F2F2F2"/>
<rect x="1688.4" y="616.17" width="37.5" height="37.1" fill="#FFFFFF"/>
<path d="M1688.4 636.27L1719.88 653.27M1695.99 616.17L1725.9 632.32" fill="none" stroke="#000000" stroke-width="1.2"/>
<rect x="1688.4" y="616.17" width="37.5" height="37.1" fill="none" stroke="#000000" stroke-width="2.15" stroke-linejoin="round"/>
<text x="1741.2" y="643.32" font-size="21" fill="#000000">10</text>
</g>
</g>
</svg></body></html>
